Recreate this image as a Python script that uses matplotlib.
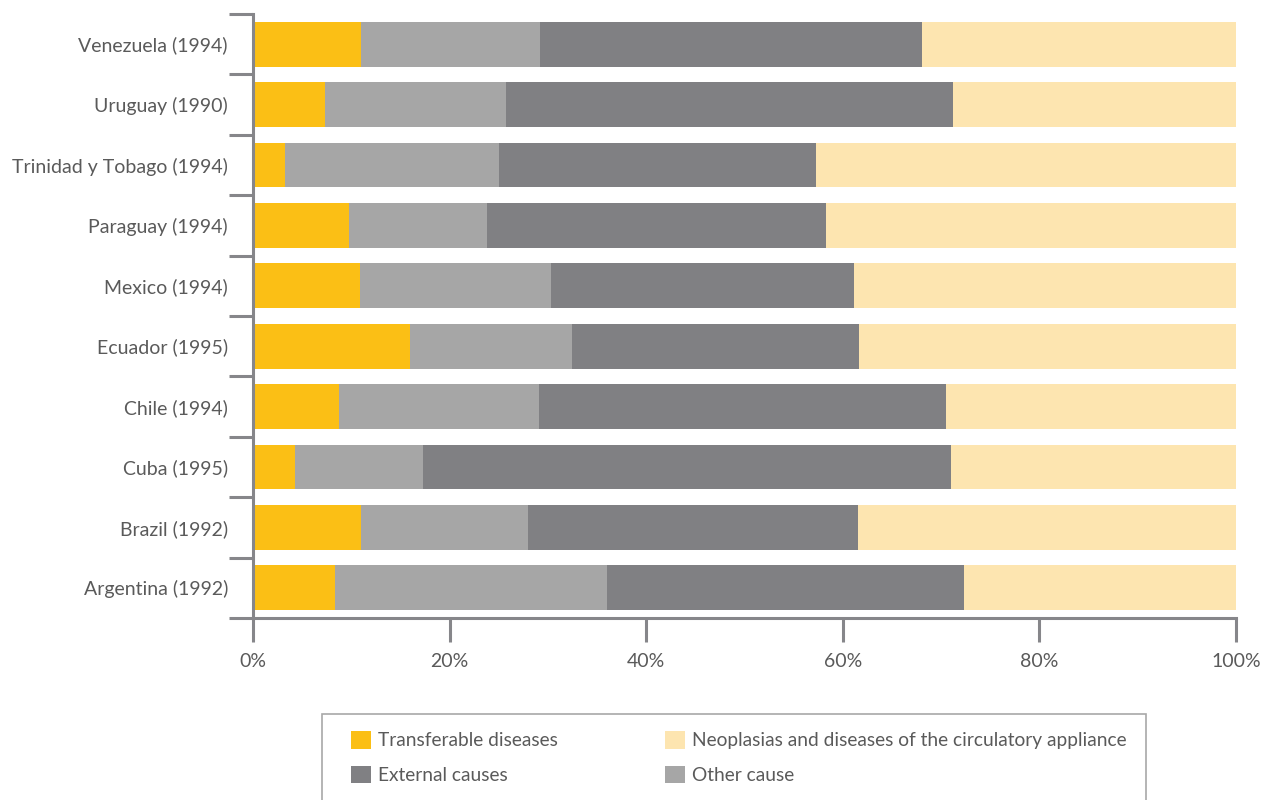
import numpy as np
import matplotlib
matplotlib.use("Agg")
import matplotlib.pyplot as plt
from matplotlib.patches import Rectangle

plt.rcParams["font.family"] = ["Lato", "DejaVu Sans"]

countries = [
    "Venezuela (1994)", "Uruguay (1990)", "Trinidad y Tobago (1994)",
    "Paraguay (1994)", "Mexico (1994)", "Ecuador (1995)", "Chile (1994)",
    "Cuba (1995)", "Brazil (1992)", "Argentina (1992)",
]
# shares in % (each row sums to 100)
transferable = [11.0, 7.3, 3.3, 9.8, 10.9, 16.0, 8.7, 4.3, 11.0, 8.3]
other_cause = [18.2, 18.4, 21.7, 14.0, 19.4, 16.5, 20.4, 13.0, 17.0, 27.7]
external = [38.9, 45.5, 32.3, 34.5, 30.8, 29.1, 41.4, 53.7, 33.5, 36.3]
neoplasias = [31.9, 28.8, 42.7, 41.7, 38.9, 38.4, 29.5, 29.0, 38.5, 27.7]

colors = {
    "Transferable diseases": "#FBBF15",
    "Other cause": "#A6A6A6",
    "External causes": "#808083",
    "Neoplasias and diseases of the circulatory appliance": "#FDE5B0",
}
axis_col = "#86868a"
text_col = "#5a5a5a"

fig = plt.figure(figsize=(12.7, 8), dpi=100)
ax = fig.add_axes([253 / 1270, 1 - 618 / 800, 983 / 1270, 604 / 800])

y = np.arange(len(countries))
left = np.zeros(len(countries))
series = [
    ("Transferable diseases", transferable),
    ("Other cause", other_cause),
    ("External causes", external),
    ("Neoplasias and diseases of the circulatory appliance", neoplasias),
]
bars = {}
for name, vals in series:
    vals = np.array(vals)
    bars[name] = ax.barh(y, vals, left=left, height=0.74, color=colors[name], linewidth=0)
    left += vals

ax.set_xlim(0, 100)
ax.set_ylim(len(countries) - 0.5, -0.5)
ax.set_xticks(np.arange(0, 101, 20))
ax.set_xticklabels([f"{v}%" for v in range(0, 101, 20)])
ax.set_yticks(y)
ax.set_yticklabels(countries)
ax.set_yticks(np.arange(-0.5, len(countries), 1), minor=True)

for s in ["top", "right"]:
    ax.spines[s].set_visible(False)
for s in ["left", "bottom"]:
    ax.spines[s].set_color(axis_col)
    ax.spines[s].set_linewidth(2.2)

ax.tick_params(axis="x", direction="out", length=17, width=2.2, color=axis_col,
               labelsize=14, labelcolor=text_col, pad=8)
ax.tick_params(axis="y", which="major", length=0, labelsize=14, labelcolor=text_col, pad=18)
ax.tick_params(axis="y", which="minor", length=17, width=2.2, color=axis_col)

# legend box, running off the bottom edge
fig.patches.append(Rectangle((322 / 1270, -0.05), 824 / 1270, 0.05 + 86 / 800,
                             transform=fig.transFigure, fill=False,
                             edgecolor="#a8a8a8", linewidth=1.2))
order = ["Transferable diseases", "External causes",
         "Neoplasias and diseases of the circulatory appliance", "Other cause"]
leg = fig.legend([bars[k] for k in order], order, ncol=2, frameon=False,
                 loc="upper left", bbox_to_anchor=(351 / 1270, 1 - 731 / 800),
                 fontsize=13.8, handlelength=1.05, handleheight=1.05, handletextpad=0.35,
                 columnspacing=5.6, labelspacing=0.85, borderaxespad=0, borderpad=0)
for t in leg.get_texts():
    t.set_color(text_col)

fig.savefig("out.png", dpi=100)
